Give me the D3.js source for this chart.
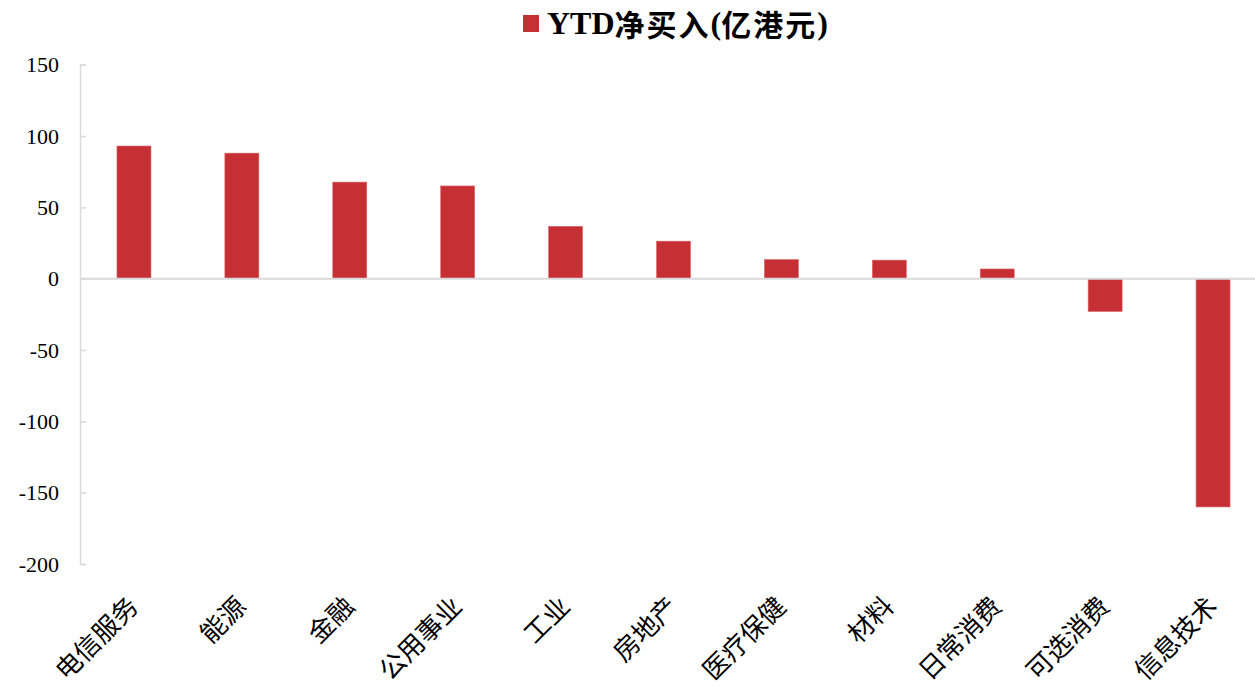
<!DOCTYPE html>
<html>
<head>
<meta charset="utf-8">
<script src="https://cdn.jsdelivr.net/npm/d3@7"></script>
<style>
  html, body { margin: 0; padding: 0; background: #fff; }
  svg { display: block; }
</style>
</head>
<body>
<svg id="chart" width="1255" height="692"></svg>
<script>
const categories = ['电信服务','能源','金融','公用事业','工业','房地产','医疗保健','材料','日常消费','可选消费','信息技术'];
const values = [93, 88, 67.7, 65, 36.7, 26.3, 13.4, 13, 6.8, -23, -160];
const yTicks = [150, 100, 50, 0, -50, -100, -150, -200];
const seriesName = 'YTD净买入(亿港元)';

(function () {
const W = 1255, H = 692;
const svg = d3.select('#chart');
const color = '#c63034';
const gridGray = '#d9d9d9';
const serif = "'Liberation Serif','Times New Roman',serif";
const cjk = "'Noto Sans CJK SC','Noto Sans',sans-serif";

const mLeft = 80, mRight = 1267, mTop = 64.7, mBottom = 564;

const y = d3.scaleLinear().domain([-200, 150]).range([mBottom, mTop]);
const x = d3.scaleBand().domain(categories).range([mLeft, mRight])
  .paddingInner(0.685).paddingOuter(0.3425);

// Y axis
const yAxis = d3.axisLeft(y).tickValues(yTicks).tickSize(-6).tickPadding(21)
  .tickFormat(d => String(d));
const gy = svg.append('g').attr('transform', `translate(${mLeft},0)`).call(yAxis);
gy.select('.domain').attr('stroke', gridGray).attr('stroke-width', 1.5);
gy.selectAll('.tick line').attr('stroke', gridGray).attr('stroke-width', 1.5);
gy.selectAll('.tick text')
  .attr('font-family', serif).attr('font-size', 22).attr('fill', '#000');

// Bars
svg.append('g').selectAll('rect').data(values).join('rect')
  .attr('x', (d, i) => x(categories[i]))
  .attr('width', x.bandwidth())
  .attr('y', d => y(Math.max(0, d)))
  .attr('height', d => Math.abs(y(d) - y(0)))
  .attr('fill', color)
  .attr('stroke', '#d9666a').attr('stroke-width', 0.6);

// Zero (category) axis line
svg.append('line')
  .attr('x1', mLeft).attr('x2', W)
  .attr('y1', y(0)).attr('y2', y(0))
  .attr('stroke', gridGray).attr('stroke-width', 2);

// Category labels rotated
svg.append('g').selectAll('text').data(categories).join('text')
  .attr('transform', d => `translate(${x(d) + x.bandwidth() / 2 + 6},${608}) rotate(-45)`)
  .attr('text-anchor', 'end')
  .attr('font-family', cjk).attr('font-size', 26).attr('fill', '#000')
  .text(d => d);

// Legend: split series name into Latin / CJK runs, each its own text element
const lg = svg.append('g');
lg.append('rect').attr('x', 523).attr('y', 15).attr('width', 16).attr('height', 17).attr('fill', color);
const runs = seriesName.match(/[\u4e00-\u9fff]+|[^\u4e00-\u9fff]+/g);
let cx = 547;
runs.forEach(r => {
  const isCJK = /[\u4e00-\u9fff]/.test(r);
  const t = lg.append('text').attr('x', cx).attr('y', isCJK ? 36 : 34)
    .attr('font-family', isCJK ? cjk : serif)
    .attr('font-size', isCJK ? 30 : 32)
    .attr('letter-spacing', isCJK ? 2 : 0)
    .attr('font-weight', 'bold').attr('fill', '#000')
    .text(r);
  cx += t.node().getComputedTextLength();
});
})();
</script>
</body>
</html>
